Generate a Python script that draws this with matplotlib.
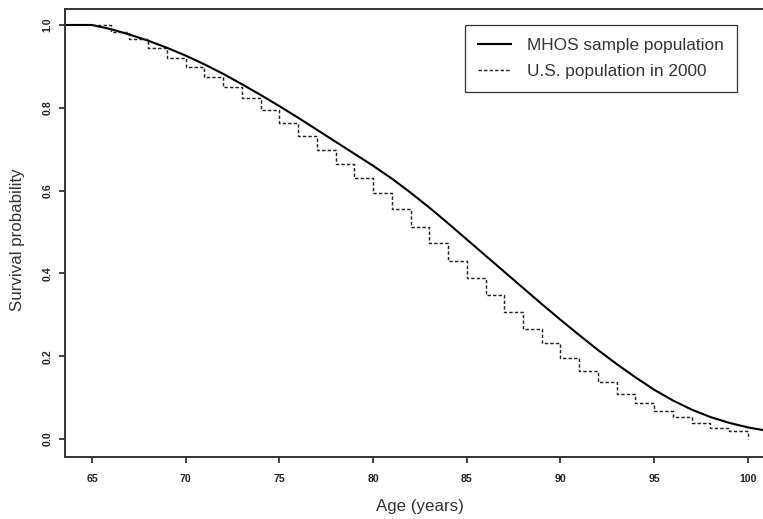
import matplotlib
matplotlib.use("Agg")
import matplotlib.pyplot as plt

plt.rcParams['font.family'] = ['Liberation Sans', 'DejaVu Sans']

# MHOS sample population (smooth survival curve)
mhos_age = [63, 64, 65, 66, 67, 68, 69, 70, 71, 72, 73, 74, 75, 76, 77, 78, 79, 80,
            81, 82, 83, 84, 85, 86, 87, 88, 89, 90, 91, 92, 93, 94, 95, 96, 97,
            98, 99, 100, 101, 102]
mhos_surv = [1.000, 1.000, 1.000, 0.990, 0.977, 0.962, 0.945, 0.926, 0.905, 0.882,
             0.857, 0.831, 0.804, 0.776, 0.747, 0.718, 0.689, 0.660, 0.629, 0.595,
             0.559, 0.521, 0.482, 0.443, 0.404, 0.365, 0.326, 0.288, 0.251, 0.215,
             0.181, 0.149, 0.119, 0.093, 0.071, 0.053, 0.039, 0.028, 0.020, 0.014]

# U.S. population in 2000 (life-table step function)
us_age = [65, 66, 67, 68, 69, 70, 71, 72, 73, 74, 75, 76, 77, 78, 79, 80, 81, 82,
          83, 84, 85, 86, 87, 88, 89, 90, 91, 92, 93, 94, 95, 96, 97, 98, 99, 100]
us_surv = [1.000, 0.984, 0.965, 0.944, 0.921, 0.898, 0.874, 0.850, 0.823, 0.795,
           0.764, 0.732, 0.698, 0.664, 0.630, 0.593, 0.556, 0.513, 0.473, 0.431,
           0.388, 0.348, 0.307, 0.266, 0.231, 0.196, 0.165, 0.137, 0.109, 0.086,
           0.068, 0.052, 0.038, 0.027, 0.020, 0.000]

x_ticks = [65, 70, 75, 80, 85, 90, 95, 100]
y_ticks = [0.0, 0.2, 0.4, 0.6, 0.8, 1.0]
y_ticklabels = ["0.0", "0.2", "0.4", "0.6", "0.8", "1.0"]

W, H = 763, 519
fig = plt.figure(figsize=(W / 100, H / 100), dpi=100)
left_px, right_px, top_px, bot_px = 65, 793.6, 9, 457
ax = fig.add_axes([left_px / W, 1 - bot_px / H, (right_px - left_px) / W, (bot_px - top_px) / H])

ax.plot(mhos_age, mhos_surv, color='black', lw=1.5, solid_joinstyle='round',
        label='MHOS sample population')
ax.plot(us_age, us_surv, color='#222222', lw=1.05, drawstyle='steps-post',
        dashes=(2.3, 1.5), label='U.S. population in 2000')

ax.set_xlim(63.56, 102.44)
ax.set_ylim(-0.0435, 1.0386)
ax.set_xticks(x_ticks)
ax.set_xticklabels([str(t) for t in x_ticks])
ax.set_yticks(y_ticks)
ax.set_yticklabels(y_ticklabels, rotation=90, va='center')

for s in ax.spines.values():
    s.set_linewidth(1.4)
    s.set_color('#333333')

ax.tick_params(axis='both', direction='out', length=4.5, width=1.3, color='#333333',
               labelsize=7.6, labelcolor='#222222')
ax.tick_params(axis='x', pad=7.5)
ax.tick_params(axis='y', pad=4.5)
for lab in ax.get_xticklabels() + ax.get_yticklabels():
    lab.set_fontweight('bold')

fig.text(18 / W, 1 - 240 / H, 'Survival probability', rotation=90, ha='center',
         va='center', fontsize=12.2, color='#333333')
fig.text(420 / W, 1 - 506 / H, 'Age (years)', ha='center', va='center',
         fontsize=12.2, color='#333333')

leg = ax.legend(loc='upper right', bbox_to_anchor=(737 / W, 1 - 25 / H),
                bbox_transform=fig.transFigure, borderaxespad=0, fontsize=12.4,
                frameon=True, fancybox=False, shadow=False, handlelength=1.9,
                handletextpad=0.95, borderpad=0.75, labelspacing=0.62)
leg.get_frame().set_edgecolor('black')
leg.get_frame().set_linewidth(0.9)
for t in leg.get_texts():
    t.set_color('#333333')

fig.savefig('out.png', dpi=100)
